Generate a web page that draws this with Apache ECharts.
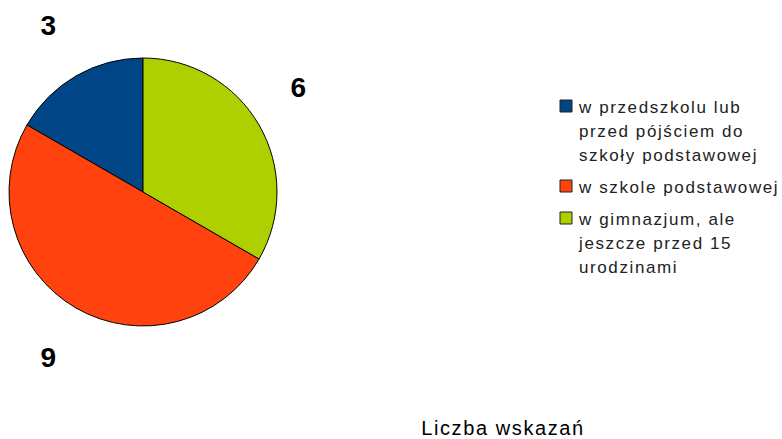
<!DOCTYPE html>
<html>
<head>
<meta charset="utf-8">
<script src="https://cdn.jsdelivr.net/npm/echarts@6/dist/echarts.min.js"></script>
<style>
html,body{margin:0;padding:0;background:#fff;}
#c{width:782px;height:439px;}
#c text{letter-spacing:1.6px;}
</style>
</head>
<body>
<div id="c"></div>
<script>
var categories = ['w przedszkolu lub\nprzed pójściem do\nszkoły podstawowej', 'w szkole podstawowej', 'w gimnazjum, ale\njeszcze przed 15\nurodzinami'];
var values = [3, 9, 6];
var colors = ['#004586', '#ff420e', '#aecf00'];
var titleText = 'Liczba wskazań';

var chart = echarts.init(document.getElementById('c'), null, {renderer: 'svg'});

// value labels, placed outside the pie as in the reference
var labelPos = [[49, 25], [49, 357], [299, 87]];
var graphics = values.map(function (v, i) {
  return {type: 'text', x: labelPos[i][0], y: labelPos[i][1],
    style: {text: String(v), font: 'bold 28px "Liberation Sans", Arial, sans-serif', fill: '#000', align: 'center', verticalAlign: 'middle'}};
});

// legend
var legTop = [100, 180, 212];
categories.forEach(function (c, i) {
  graphics.push({type: 'rect', shape: {x: 560, y: legTop[i], width: 12, height: 12},
    style: {fill: colors[i], stroke: '#222', lineWidth: 1}});
  graphics.push({type: 'text', x: 579, y: legTop[i] - 5,
    style: {text: c, font: '17px "Liberation Sans", Arial, sans-serif', fill: '#222', lineHeight: 24, align: 'left', verticalAlign: 'top'}});
});

chart.setOption({
  animation: false,
  backgroundColor: '#fff',
  title: {text: titleText, left: 503, top: 418, textAlign: 'center', padding: 0,
    textStyle: {fontFamily: '"Liberation Sans", Arial, sans-serif', fontWeight: 'normal', fontSize: 20, lineHeight: 20, color: '#000'}},
  series: [{
    type: 'pie',
    center: [143, 192],
    radius: 134,
    startAngle: 90,
    clockwise: false,
    label: {show: false},
    labelLine: {show: false},
    itemStyle: {borderColor: '#000', borderWidth: 1},
    data: categories.map(function (c, i) {
      return {name: c, value: values[i], itemStyle: {color: colors[i]}};
    })
  }],
  graphic: graphics
});
</script>
</body>
</html>
